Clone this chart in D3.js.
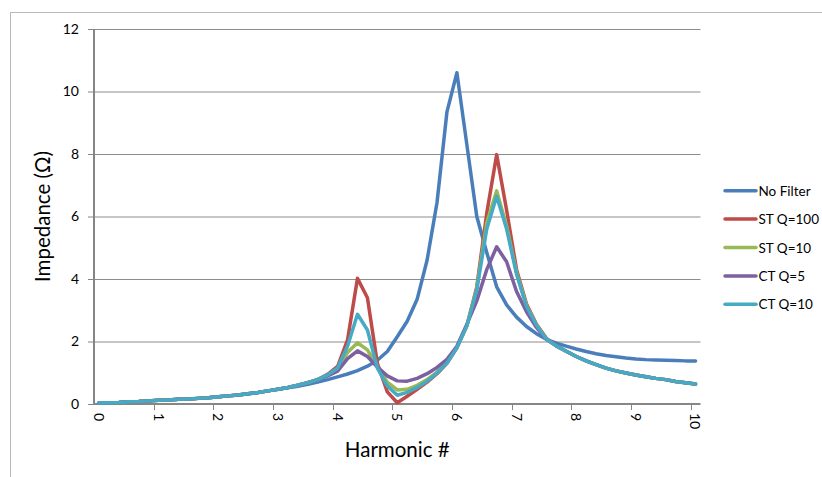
<!DOCTYPE html>
<html><head><meta charset="utf-8">
<script src="https://cdn.jsdelivr.net/npm/d3@7"></script>
<style>
body{margin:0;background:#fff}
svg{display:block}
text{font-family:Lato,"Open Sans",sans-serif;fill:#000}
</style>
</head><body>
<svg id="chart" width="822" height="477"></svg>
<script>
// Harmonic number categories (step 1/6)
const harmonics = [0,0.17,0.33,0.5,0.67,0.83,1,1.17,1.33,1.5,1.67,1.83,2,2.17,2.33,2.5,2.67,2.83,3,3.17,3.33,3.5,3.67,3.83,4,4.17,4.33,4.5,4.67,4.83,5,5.17,5.33,5.5,5.67,5.83,6,6.17,6.33,6.5,6.67,6.83,7,7.17,7.33,7.5,7.67,7.83,8,8.17,8.33,8.5,8.67,8.83,9,9.17,9.33,9.5,9.67,9.83,10];
const xTickLabels = ["0","1","2","3","4","5","6","7","8","9","10"];
const yTickValues = [0,2,4,6,8,10,12];
const seriesNames = ["No Filter","ST Q=100","ST Q=10","CT Q=5","CT Q=10"];
const seriesColors = ["#4A7EBB","#BE4B48","#98B954","#7D60A0","#46AAC5"];

const noFilter = [0.03,0.04,0.05,0.07,0.08,0.10,0.12,0.13,0.15,0.16,0.18,0.20,0.23,0.26,0.29,0.33,0.37,0.42,0.47,0.52,0.57,0.63,0.70,0.78,0.87,0.96,1.07,1.21,1.40,1.68,2.15,2.65,3.35,4.60,6.45,9.35,10.6,8.3,6.0,4.85,3.75,3.17,2.78,2.48,2.25,2.07,1.95,1.85,1.76,1.68,1.61,1.55,1.51,1.47,1.44,1.42,1.41,1.40,1.39,1.38,1.38];
const stQ100 = [0.03,0.04,0.05,0.07,0.08,0.10,0.12,0.13,0.15,0.16,0.18,0.20,0.23,0.26,0.29,0.33,0.37,0.42,0.47,0.53,0.60,0.68,0.78,0.95,1.20,2.05,4.02,3.40,1.30,0.39,0.04,0.25,0.47,0.70,0.97,1.30,1.80,2.50,3.75,6.10,7.98,6.20,4.30,3.20,2.55,2.10,1.86,1.69,1.52,1.38,1.26,1.15,1.06,0.99,0.93,0.87,0.82,0.78,0.72,0.68,0.64];
const stQ10 = [0.03,0.04,0.05,0.07,0.08,0.10,0.12,0.13,0.15,0.16,0.18,0.20,0.23,0.26,0.29,0.33,0.37,0.42,0.47,0.53,0.60,0.68,0.78,0.92,1.10,1.65,1.96,1.73,1.20,0.70,0.45,0.47,0.60,0.78,1.02,1.33,1.82,2.50,3.70,5.80,6.82,5.70,4.20,3.15,2.53,2.08,1.86,1.69,1.52,1.38,1.26,1.15,1.06,0.99,0.93,0.87,0.82,0.78,0.72,0.68,0.64];
const ctQ5 = [0.03,0.04,0.05,0.07,0.08,0.10,0.12,0.13,0.15,0.16,0.18,0.20,0.23,0.26,0.29,0.33,0.37,0.42,0.47,0.53,0.60,0.68,0.78,0.90,1.05,1.45,1.70,1.52,1.18,0.90,0.74,0.73,0.82,0.97,1.17,1.43,1.85,2.55,3.30,4.30,5.03,4.55,3.60,2.95,2.45,2.07,1.86,1.69,1.52,1.38,1.26,1.15,1.06,0.99,0.93,0.87,0.82,0.78,0.72,0.68,0.64];
const ctQ10 = [0.03,0.04,0.05,0.07,0.08,0.10,0.12,0.13,0.15,0.16,0.18,0.20,0.23,0.26,0.29,0.33,0.37,0.42,0.47,0.53,0.60,0.68,0.78,0.93,1.15,1.85,2.87,2.37,1.15,0.58,0.28,0.37,0.53,0.73,0.99,1.31,1.80,2.50,3.65,5.60,6.65,5.60,4.15,3.12,2.52,2.08,1.86,1.69,1.52,1.38,1.26,1.15,1.06,0.99,0.93,0.87,0.82,0.78,0.72,0.68,0.64];
const seriesValues = [noFilter, stQ100, stQ10, ctQ5, ctQ10];

const svg = d3.select("#chart");
const plot = {left: 94, right: 700.5, top: 29, bottom: 404};

// outer chart frame
svg.append("rect").attr("x",10.5).attr("y",12.5).attr("width",840).attr("height",500)
  .attr("fill","#fff").attr("stroke","#b9b9b9").attr("stroke-width",1);

const x = d3.scaleBand().domain(harmonics).range([plot.left, plot.right]).padding(0);
const y = d3.scaleLinear().domain([0,12]).range([plot.bottom, plot.top]);
const bw = x.bandwidth();
const cx = d => x(d) + bw/2;

// gridlines
const grid = svg.append("g").attr("transform",`translate(${plot.left},0)`)
  .call(d3.axisLeft(y).tickValues(yTickValues.slice(1)).tickSize(-(plot.right-plot.left)).tickFormat(""));
grid.select(".domain").remove();
grid.selectAll("line").attr("stroke","#8c8c8c").attr("stroke-width",1);

// y axis ticks & labels
const yAx = svg.append("g").attr("transform",`translate(${plot.left},0)`)
  .call(d3.axisLeft(y).tickValues(yTickValues).tickSize(6).tickPadding(9).tickFormat(d3.format("d")));
yAx.select(".domain").remove();
yAx.selectAll("line").attr("stroke","#868686").attr("stroke-width",1);
yAx.selectAll("text").attr("font-size","14px").attr("font-family","Lato").attr("fill","#000");

// x axis labels (at category centres)
const labelCats = xTickLabels.map(l => harmonics.find(h => h === +l));
const xAx = svg.append("g").attr("transform",`translate(0,${plot.bottom})`)
  .call(d3.axisBottom(x).tickValues(labelCats).tickSize(0).tickPadding(0).tickFormat((d,i)=>xTickLabels[i]));
xAx.select(".domain").remove();
xAx.selectAll(".tick text")
  .attr("font-size","14px").attr("font-family","Lato").attr("fill","#000")
  .attr("text-anchor","start").attr("y",0).attr("dy","0.36em")
  .attr("transform","translate(0,9) rotate(90)");

// x tick marks at category boundaries
svg.append("g").selectAll("line").data(labelCats.slice(1)).join("line")
  .attr("x1",d=>Math.round(x(d))+0.5).attr("x2",d=>Math.round(x(d))+0.5)
  .attr("y1",plot.bottom).attr("y2",plot.bottom+6)
  .attr("stroke","#868686").attr("stroke-width",1);

// axis lines
svg.append("line").attr("x1",plot.left).attr("x2",plot.left).attr("y1",plot.top).attr("y2",plot.bottom+1)
  .attr("stroke","#868686").attr("stroke-width",2);
svg.append("line").attr("x1",plot.left-1).attr("x2",plot.right).attr("y1",plot.bottom).attr("y2",plot.bottom)
  .attr("stroke","#868686").attr("stroke-width",2);

// series lines
const line = d3.line().x((d,i)=>cx(harmonics[i])).y(d=>y(d));
seriesValues.forEach((vals,k)=>{
  svg.append("path").datum(vals).attr("d",line)
    .attr("fill","none").attr("stroke",seriesColors[k]).attr("stroke-width",3.5)
    .attr("stroke-linejoin","round").attr("stroke-linecap","round");
});

// axis titles
svg.append("text").attr("x",(plot.left+plot.right)/2).attr("y",457)
  .attr("text-anchor","middle").attr("font-size","20.5px").text("Harmonic #");
svg.append("text").attr("transform",`translate(50,${(plot.top+plot.bottom)/2}) rotate(-90)`)
  .attr("text-anchor","middle").attr("font-size","20.5px").text("Impedance (Ω)");

// legend
const legendY = d3.scalePoint().domain(seriesNames).range([190.7, 304.3]);
const lg = svg.append("g");
seriesNames.forEach((n,k)=>{
  const ly = legendY(n);
  lg.append("line").attr("x1",725).attr("x2",756).attr("y1",ly).attr("y2",ly)
    .attr("stroke",seriesColors[k]).attr("stroke-width",3.5).attr("stroke-linecap","round");
  lg.append("text").attr("x",758.5).attr("y",ly+5).attr("font-size","13.5px").text(n);
});
</script>
</body></html>
